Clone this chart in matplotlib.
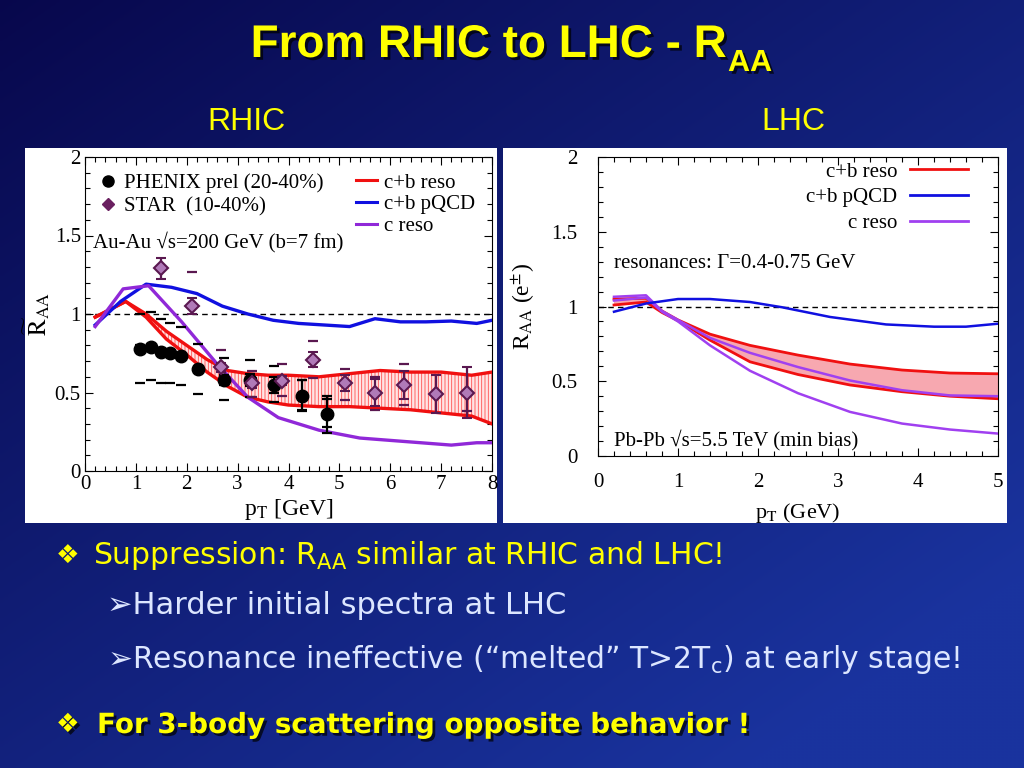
import numpy as np
import matplotlib
matplotlib.use("Agg")
import matplotlib.pyplot as plt
import matplotlib.patheffects as pe
from matplotlib.patches import Rectangle
from matplotlib.lines import Line2D
from matplotlib.ticker import MultipleLocator

plt.rcParams["font.family"] = ["Liberation Serif", "DejaVu Serif"]
plt.rcParams["mathtext.fontset"] = "stix"
plt.rcParams["hatch.linewidth"] = 0.6

# ---- RHIC panel data ----
rhic_pqcd_x = [0.2, 0.7, 1.2, 1.7, 2.2, 2.7, 3.2, 3.7, 4.2, 4.7, 5.2, 5.7, 6.2, 6.7, 7.2, 7.7, 8.0]
rhic_pqcd_y = [0.93, 1.08, 1.19, 1.17, 1.13, 1.05, 1.0, 0.96, 0.94, 0.93, 0.92, 0.97, 0.95, 0.95, 0.955, 0.94, 0.96]

rhic_creso_x = [0.2, 0.75, 1.25, 1.9, 2.6, 3.2, 3.8, 4.6, 5.4, 6.4, 7.2, 7.7, 8.0]
rhic_creso_y = [0.92, 1.16, 1.18, 0.95, 0.68, 0.47, 0.34, 0.26, 0.21, 0.185, 0.165, 0.18, 0.18]

rhic_reso_x = [0.2, 0.8, 1.2, 1.6, 2.0, 2.4, 2.8, 3.2, 3.6, 4.0, 4.6, 5.2, 5.8, 6.4, 7.0, 7.6, 8.0]
rhic_reso_hi = [0.98, 1.08, 1.0, 0.89, 0.80, 0.71, 0.64, 0.62, 0.61, 0.61, 0.60, 0.62, 0.64, 0.63, 0.63, 0.61, 0.63]
rhic_reso_lo = [0.98, 1.08, 0.98, 0.84, 0.74, 0.63, 0.54, 0.47, 0.44, 0.42, 0.41, 0.41, 0.40, 0.39, 0.37, 0.35, 0.30]

phenix_x = [1.08, 1.3, 1.49, 1.68, 1.89, 2.23, 2.74, 3.24, 3.71, 4.26, 4.75]
phenix_y = [0.78, 0.79, 0.76, 0.75, 0.73, 0.65, 0.58, 0.58, 0.55, 0.48, 0.36]
phenix_err = [0.02, 0.02, 0.02, 0.02, 0.02, 0.02, 0.03, 0.04, 0.05, 0.1, 0.12]
phenix_sys_hi = [1.0, 1.01, 0.97, 0.94, 0.915, 0.81, 0.72, 0.71, 0.67, 0.58, 0.46]
phenix_sys_lo = [0.56, 0.58, 0.56, 0.56, 0.55, 0.49, 0.45, 0.47, 0.44, 0.39, 0.28]

star_x = [1.49, 2.1, 2.67, 3.29, 3.88, 4.49, 5.11, 5.70, 6.27, 6.89, 7.5]
star_y = [1.29, 1.05, 0.66, 0.56, 0.575, 0.71, 0.56, 0.50, 0.55, 0.49, 0.50]
star_err = [0.065, 0.05, 0.03, 0.03, 0.03, 0.045, 0.05, 0.085, 0.09, 0.12, 0.165]
star_sys_hi = [np.nan, 1.27, 0.77, 0.64, 0.68, 0.83, 0.65, 0.60, 0.68, np.nan, np.nan]
star_sys_lo = [np.nan, np.nan, np.nan, 0.47, 0.48, 0.59, 0.45, 0.39, 0.42, np.nan, 0.38]

# ---- LHC panel data ----
lhc_pqcd_x = [0.2, 0.6, 1.0, 1.4, 1.9, 2.3, 2.9, 3.6, 4.2, 4.6, 5.0]
lhc_pqcd_y = [0.965, 1.02, 1.05, 1.05, 1.03, 0.995, 0.93, 0.88, 0.865, 0.865, 0.885]

lhc_x = [0.2, 0.6, 0.8, 1.0, 1.4, 1.9, 2.5, 3.15, 3.8, 4.4, 5.0]
lhc_reso_hi = [1.05, 1.055, 0.97, 0.91, 0.815, 0.74, 0.675, 0.615, 0.575, 0.555, 0.55]
lhc_reso_lo = [1.01, 1.03, 0.96, 0.905, 0.775, 0.63, 0.545, 0.475, 0.43, 0.40, 0.383]
lhc_creso_hi = [1.065, 1.075, 0.97, 0.91, 0.79, 0.69, 0.595, 0.505, 0.44, 0.405, 0.40]
lhc_creso_lo = [1.04, 1.06, 0.965, 0.90, 0.74, 0.57, 0.42, 0.295, 0.217, 0.177, 0.15]

RED = "#f01010"
BLUE = "#1010e0"
PURPLE = "#9028d8"
STAR_EDGE = "#5a1850"
STAR_FACE = "#b07ab8"
YELLOW = "#ffff00"
PALE = "#dce6ff"

fig = plt.figure(figsize=(10.24, 7.68), dpi=100)

# slide background gradient
bg = fig.add_axes([0, 0, 1, 1], zorder=-10)
gx, gy = np.meshgrid(np.linspace(0, 1, 256), np.linspace(0, 1, 256))
t = np.clip(0.55 * gx + 0.6 * gy, 0, 1)[..., None]
top = np.array([0.03, 0.03, 0.30])
bot = np.array([0.10, 0.20, 0.62])
bg.imshow(top + (bot - top) * t, aspect="auto", extent=[0, 1, 0, 1], origin="upper")
bg.axis("off")

# white panels behind plots
for x0, w in [(25, 472), (503, 504)]:
    fig.patches.append(Rectangle((x0 / 1024, 1 - 523 / 768), w / 1024, 375 / 768,
                                 transform=fig.transFigure, facecolor="white",
                                 edgecolor="none", zorder=-5))


def style_axes(ax, xmax, xminor):
    ax.xaxis.set_major_locator(MultipleLocator(1))
    ax.xaxis.set_minor_locator(MultipleLocator(xminor))
    ax.yaxis.set_major_locator(MultipleLocator(0.5))
    ax.yaxis.set_minor_locator(MultipleLocator(0.1))
    ax.tick_params(which="both", direction="in", top=True, right=True, labelsize=15, pad=3)
    ax.tick_params(which="major", length=6, width=0.8)
    ax.tick_params(which="minor", length=3.5, width=0.8)
    ax.set_xlim(0, xmax)
    ax.set_ylim(0, 2)
    ax.set_yticks([0, 0.5, 1, 1.5, 2])
    ax.set_yticklabels(["0", "0.5", "1", "1.5", "2"])
    for s in ax.spines.values():
        s.set_linewidth(0.8)
    ax.axhline(1, color="black", lw=1, ls=(0, (4, 3)), zorder=1)


# ---- left panel: RHIC ----
ax1 = fig.add_axes([85 / 1024, 1 - 471 / 768, 407 / 1024, 314 / 768])
style_axes(ax1, 8, 0.2)

ax1.fill_between(rhic_reso_x, rhic_reso_lo, rhic_reso_hi, facecolor="#ffe4e4",
                 edgecolor="#ff5050", hatch="|||||", linewidth=0, zorder=2)
ax1.plot(rhic_reso_x, rhic_reso_hi, color=RED, lw=2.4, zorder=3)
ax1.plot(rhic_reso_x, rhic_reso_lo, color=RED, lw=2.4, zorder=3)
ax1.plot(rhic_pqcd_x, rhic_pqcd_y, color=BLUE, lw=2.4, zorder=3)
ax1.plot(rhic_creso_x, rhic_creso_y, color=PURPLE, lw=2.4, zorder=3)

ax1.scatter(phenix_x, phenix_sys_hi, marker="_", s=60, color="black", linewidths=1.6, zorder=4)
ax1.scatter(phenix_x, phenix_sys_lo, marker="_", s=60, color="black", linewidths=1.6, zorder=4)
ax1.errorbar(phenix_x, phenix_y, yerr=phenix_err, fmt="o", color="black", ms=9,
             capsize=3.5, elinewidth=1.6, capthick=1.6, zorder=5)

ax1.scatter(star_x, star_sys_hi, marker="_", s=60, color=STAR_EDGE, linewidths=1.6, zorder=4)
ax1.scatter(star_x, star_sys_lo, marker="_", s=60, color=STAR_EDGE, linewidths=1.6, zorder=4)
ax1.errorbar(star_x, star_y, yerr=star_err, fmt="D", ms=7, mfc=STAR_FACE, mec=STAR_EDGE,
             mew=1.5, ecolor=STAR_EDGE, capsize=3.5, elinewidth=1.6, capthick=1.6, zorder=5)

ax1.set_xlabel(r"p$_{\mathrm{T}}$ [GeV]", fontsize=17, labelpad=2)
ax1.set_ylabel(r"$\widetilde{\mathrm{R}}_{\mathrm{AA}}$", fontsize=18, labelpad=2)

data_handles = [Line2D([], [], marker="o", ls="none", color="black", ms=8),
                Line2D([], [], marker="D", ls="none", mfc="#6a2060", mec="#6a2060", ms=6)]
leg1 = ax1.legend(data_handles, ["PHENIX prel (20-40%)", "STAR  (10-40%)"],
                  loc="upper left", bbox_to_anchor=(0.0, 0.995), frameon=False,
                  fontsize=15, handlelength=0.8, handletextpad=0.35, labelspacing=0.2,
                  borderaxespad=0.3)
ax1.add_artist(leg1)
line_handles = [Line2D([], [], color=RED, lw=2.2), Line2D([], [], color=BLUE, lw=2.2),
                Line2D([], [], color=PURPLE, lw=2.2)]
ax1.legend(line_handles, ["c+b reso", "c+b pQCD", "c reso"], loc="upper left",
           bbox_to_anchor=(0.63, 0.995), frameon=False, fontsize=15, handlelength=1.0,
           handletextpad=0.35, labelspacing=0.1, borderaxespad=0.3)
ax1.text(0.02, 0.73, "Au-Au \u221as=200 GeV (b=7 fm)", transform=ax1.transAxes,
         fontsize=15, va="center", ha="left")

# ---- right panel: LHC ----
ax2 = fig.add_axes([598 / 1024, 1 - 456 / 768, 400 / 1024, 299 / 768])
style_axes(ax2, 5, 0.2)
ax2.tick_params(axis="y", which="both", pad=15)
ax2.tick_params(axis="x", which="both", pad=12)

ax2.fill_between(lhc_x, lhc_reso_lo, lhc_reso_hi, facecolor="#f7a8b0", linewidth=0, zorder=2)
ax2.plot(lhc_x, lhc_reso_hi, color=RED, lw=2, zorder=3)
ax2.plot(lhc_x, lhc_reso_lo, color=RED, lw=2, zorder=3)
ax2.plot(lhc_x, lhc_creso_hi, color="#a040f0", lw=1.8, zorder=3)
ax2.plot(lhc_x, lhc_creso_lo, color="#a040f0", lw=1.8, zorder=3)
ax2.plot(lhc_pqcd_x, lhc_pqcd_y, color=BLUE, lw=1.8, zorder=3)

ax2.set_xlabel(r"p$_{\mathrm{T}}$ (GeV)", fontsize=16, labelpad=7)
ax2.set_ylabel(r"R$_{\mathrm{AA}}$ (e$^{\pm}$)", fontsize=17, labelpad=10)

line_handles2 = [Line2D([], [], color=RED, lw=2), Line2D([], [], color=BLUE, lw=2),
                 Line2D([], [], color="#a040f0", lw=2)]
ax2.legend(line_handles2, ["c+b reso", "c+b pQCD", "c reso"], loc="upper right",
           bbox_to_anchor=(0.955, 1.025), frameon=False, fontsize=15, markerfirst=False,
           handlelength=2.75, handletextpad=0.63, labelspacing=0.3, borderaxespad=0.2)
ax2.text(0.04, 0.645, "resonances: \u0393=0.4-0.75 GeV", transform=ax2.transAxes,
         fontsize=15, va="center", ha="left")
ax2.text(0.04, 0.055, "Pb-Pb \u221as=5.5 TeV (min bias)", transform=ax2.transAxes,
         fontsize=15, va="center", ha="left")

# ---- slide texts ----
shadow = [pe.SimplePatchShadow(offset=(2, -2), shadow_rgbFace="black", alpha=0.7), pe.Normal()]
title_font = ["Liberation Sans Narrow", "Liberation Sans", "DejaVu Sans"]
fig.text(727 / 1024, 1 - 45 / 768, "From RHIC to LHC - R", color=YELLOW, fontsize=33,
         fontweight="bold", family=title_font, ha="right", va="center", path_effects=shadow)
fig.text(728 / 1024, 1 - 63 / 768, "AA", color=YELLOW, fontsize=22, fontweight="bold",
         family=title_font, ha="left", va="center", path_effects=shadow)
fig.text(247 / 1024, 1 - 122 / 768, "RHIC", color=YELLOW, fontsize=23,
         family=title_font, ha="center", va="center")
fig.text(793 / 1024, 1 - 122 / 768, "LHC", color=YELLOW, fontsize=23,
         family=title_font, ha="center", va="center")

body_font = ["DejaVu Sans"]
fig.text(56 / 1024, 1 - 556 / 768, "\u2756", color=YELLOW, fontsize=19, family=body_font,
         ha="left", va="center")
fig.text(93 / 1024, 1 - 556 / 768, r"Suppression: R$_{\mathrm{AA}}$ similar at RHIC and LHC!",
         color=YELLOW, fontsize=21.5, family=body_font, math_fontfamily="dejavusans",
         ha="left", va="center")
fig.text(107 / 1024, 1 - 606 / 768, "\u27a2Harder initial spectra at LHC", color=PALE,
         fontsize=22, family=body_font, ha="left", va="center")
fig.text(107 / 1024, 1 - 660 / 768,
         "\u27a2Resonance ineffective (\u201cmelted\u201d T>2T$_{\\mathrm{c}}$) at early stage!",
         color=PALE, fontsize=21.5, family=body_font, math_fontfamily="dejavusans",
         ha="left", va="center")
fig.text(56 / 1024, 1 - 725 / 768, "\u2756", color=YELLOW, fontsize=19, family=body_font,
         ha="left", va="center", path_effects=shadow)
fig.text(97 / 1024, 1 - 725 / 768, "For 3-body scattering opposite behavior !", color=YELLOW,
         fontsize=20, fontweight="bold", family=body_font, ha="left", va="center",
         path_effects=shadow)

fig.savefig("out.png", dpi=100)
